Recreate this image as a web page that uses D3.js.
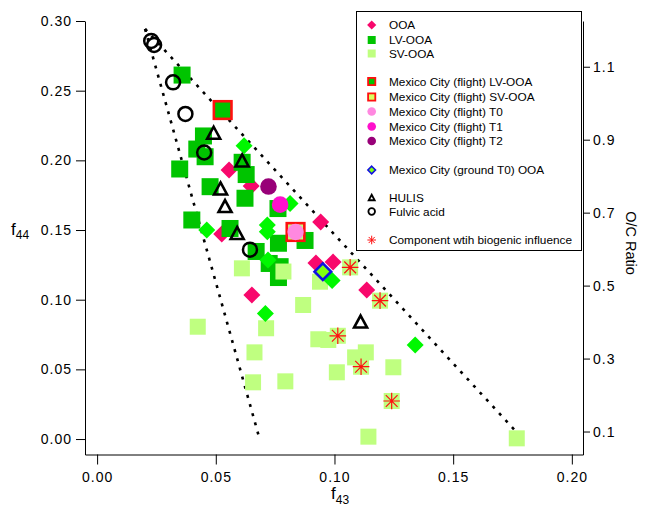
<!DOCTYPE html>
<html><head><meta charset="utf-8">
<script src="https://cdn.jsdelivr.net/npm/d3@7"></script>
<style>
body{margin:0;background:#fff}
svg{display:block}
text{font-family:"Liberation Sans",Arial,Helvetica,sans-serif;fill:#000}
</style>
</head><body>
<svg id="chart" width="646" height="509"></svg>
<script>
// ---- tick labels ----
const xTicks = [0, 0.05, 0.10, 0.15, 0.20];
const yTicks = [0, 0.05, 0.10, 0.15, 0.20, 0.25, 0.30];
const ocTicks = [0.1, 0.3, 0.5, 0.7, 0.9, 1.1];

// ---- series values [f43, f44] ----
const ooa = [[0.0556,0.1931],[0.0649,0.1816],[0.0525,0.1471],[0.0942,0.1557],[0.0922,0.1263],[0.0994,0.1270],[0.0652,0.1034],[0.1136,0.1069]];
const lvooa = [[0.0358,0.2612],[0.0448,0.2175],[0.0420,0.2081],[0.0455,0.2026],[0.0348,0.1938],[0.0611,0.1986],[0.0628,0.1898],[0.0476,0.1811],[0.0623,0.1728],[0.0399,0.1572],[0.0560,0.1511],[0.0762,0.1654],[0.0876,0.1425],[0.0764,0.1405],[0.0670,0.1346],[0.0725,0.1260],[0.0771,0.1237],[0.0764,0.1159]];
const svooa = [[0.0610,0.1225],[0.0785,0.1202],[0.0939,0.1129],[0.0868,0.0962],[0.0424,0.0806],[0.0712,0.0795],[0.0932,0.0716],[0.0974,0.0711],[0.1087,0.0586],[0.1132,0.0622],[0.0663,0.0622],[0.1010,0.0479],[0.1248,0.0515],[0.0657,0.0407],[0.0793,0.0414],[0.1143,0.0017],[0.1768,0.0005]];
const svBiogenic = [[0.1066,0.1232],[0.1192,0.0993],[0.1014,0.0741],[0.1112,0.0519],[0.1241,0.0273]];
const otherOOA = [[0.0619,0.2105],[0.0813,0.1690],[0.0462,0.1500],[0.0717,0.1536],[0.0717,0.1488],[0.0720,0.1285],[0.0990,0.1138],[0.0709,0.0901],[0.1340,0.0675]];
const flightLV = [[0.0529,0.2361]];
const flightSV = [[0.0836,0.1486]];
const flightT0 = [[0.0836,0.1486]];
const flightT1 = [[0.0771,0.1682]];
const flightT2 = [[0.0722,0.1812]];
const groundT0 = [[0.0951,0.1201]];
const hulis = [[0.0491,0.2198],[0.0611,0.1999],[0.0520,0.1798],[0.0539,0.1672],[0.0590,0.1479],[0.1110,0.0843]];
const fulvic = [[0.0228,0.2857],[0.0240,0.2828],[0.0320,0.2560],[0.0372,0.2333],[0.0451,0.2056],[0.0644,0.1359]];
// triangle guide lines (f43, f44)
const leftLine = [[0.0202,0.2943],[0.0682,0.0016]];
const rightLine = [[0.0202,0.2943],[0.1778,0.0029]];

const svg = d3.select("#chart");
const x = d3.scaleLinear().domain([-0.0051, 0.2047]).range([85, 583]);
const y = d3.scaleLinear().domain([-0.0111, 0.30]).range([454.5, 21]);
const toOC = f => 3.82 * f + 0.0794;
const yOC = d3.scaleLinear().domain([toOC(-0.0111), toOC(0.30)]).range([454.5, 21]);

// axes
const axL = svg.append("g").attr("transform","translate(85,0)")
  .call(d3.axisLeft(y).tickValues(yTicks).tickFormat(d3.format(".2f")).tickSize(9).tickSizeOuter(0).tickPadding(4));
const axB = svg.append("g").attr("transform","translate(0,454.5)")
  .call(d3.axisBottom(x).tickValues(xTicks).tickFormat(d3.format(".2f")).tickSize(10).tickSizeOuter(0).tickPadding(8));
const axR = svg.append("g").attr("transform","translate(583,0)")
  .call(d3.axisRight(yOC).tickValues(ocTicks).tickFormat(d3.format(".1f")).tickSize(7).tickSizeOuter(0).tickPadding(3));
[axL,axB,axR].forEach(a=>{
  a.selectAll("text").style("font-size","14px").style("letter-spacing","1px");
  a.select(".domain").attr("stroke","#000");
  a.selectAll(".tick line").attr("stroke","#000");
});

// axis titles
const yl = svg.append("text").attr("x",11).attr("y",235).style("font-size","17px");
yl.append("tspan").text("f");
yl.append("tspan").attr("dy",4).style("font-size","12px").text("44");
const xl = svg.append("text").attr("x",331).attr("y",499).style("font-size","17px");
xl.append("tspan").text("f");
xl.append("tspan").attr("dy",5).style("font-size","12px").text("43");
svg.append("text").attr("transform","translate(626,243) rotate(90)")
  .attr("text-anchor","middle").style("font-size","14.5px").text("O/C Ratio");

// dotted guide lines
const line = d3.line().x(d=>x(d[0])).y(d=>y(d[1]));
[leftLine,rightLine].forEach(L=>{
  svg.append("path").attr("d",line(L)).attr("fill","none").attr("stroke","#000")
    .attr("stroke-width",2.6).attr("stroke-dasharray","3,6.5");
});

// marker helpers
const diamondPath = (cx,cy,r)=>`M${cx},${cy-r}L${cx+r},${cy}L${cx},${cy+r}L${cx-r},${cy}Z`;
const triPath = (cx,cy,w,h)=>`M${cx},${cy-h/2}L${cx+w/2},${cy+h/2}L${cx-w/2},${cy+h/2}Z`;
const starPath = (cx,cy,r)=>{
  let p="";
  for(let k=0;k<4;k++){const a=k*Math.PI/4;const dx=r*Math.cos(a),dy=r*Math.sin(a);
    p+=`M${cx-dx},${cy-dy}L${cx+dx},${cy+dy}`;}
  return p;
};
const C = {ooa:"#f8086c", lv:"#00c400", sv:"#bfff80", lime:"#00f800", t0:"#ff88e0", t1:"#ff10cc", t2:"#980078", red:"#ff1010", blue:"#1010e0", gfill:"#80ff10"};

const g = svg.append("g");
g.selectAll(".ooa").data(ooa).join("path").attr("d",d=>diamondPath(x(d[0]),y(d[1]),8.5)).attr("fill",C.ooa);
g.selectAll(".lv").data(lvooa).join("rect").attr("x",d=>x(d[0])-8.5).attr("y",d=>y(d[1])-8.5).attr("width",17).attr("height",17).attr("fill",C.lv);
g.selectAll(".sv").data(svooa.concat(svBiogenic)).join("rect").attr("x",d=>x(d[0])-8).attr("y",d=>y(d[1])-8).attr("width",16).attr("height",16).attr("fill",C.sv);
g.selectAll(".lime").data(otherOOA).join("path").attr("d",d=>diamondPath(x(d[0]),y(d[1]),8.5)).attr("fill",C.lime);
g.selectAll(".flv").data(flightLV).join("rect").attr("x",d=>x(d[0])-8.8).attr("y",d=>y(d[1])-8.8).attr("width",17.6).attr("height",17.6).attr("fill",C.lv).attr("stroke",C.red).attr("stroke-width",2.6);
g.selectAll(".fsv").data(flightSV).join("rect").attr("x",d=>x(d[0])-8.8).attr("y",d=>y(d[1])-8.8).attr("width",17.6).attr("height",17.6).attr("fill",C.sv).attr("stroke",C.red).attr("stroke-width",2.6);
g.selectAll(".t0").data(flightT0).join("circle").attr("cx",d=>x(d[0])).attr("cy",d=>y(d[1])).attr("r",8.2).attr("fill",C.t0);
g.selectAll(".t1").data(flightT1).join("circle").attr("cx",d=>x(d[0])).attr("cy",d=>y(d[1])).attr("r",8.3).attr("fill",C.t1);
g.selectAll(".t2").data(flightT2).join("circle").attr("cx",d=>x(d[0])).attr("cy",d=>y(d[1])).attr("r",8.3).attr("fill",C.t2);
g.selectAll(".gr").data(groundT0).join("path").attr("d",d=>diamondPath(x(d[0]),y(d[1]),8.3)).attr("fill",C.gfill).attr("stroke",C.blue).attr("stroke-width",2.6);
g.selectAll(".hu").data(hulis).join("path").attr("d",d=>triPath(x(d[0]),y(d[1]),13,12)).attr("fill","none").attr("stroke","#000").attr("stroke-width",2.6).attr("stroke-linejoin","miter");
g.selectAll(".fu").data(fulvic).join("circle").attr("cx",d=>x(d[0])).attr("cy",d=>y(d[1])).attr("r",7).attr("fill","none").attr("stroke","#000").attr("stroke-width",2.5);
g.selectAll(".bio").data(svBiogenic).join("path").attr("d",d=>starPath(x(d[0]),y(d[1]),8.3)).attr("stroke",C.red).attr("stroke-width",1.2).attr("fill","none");

// legend
const lg = svg.append("g");
lg.append("rect").attr("x",356.5).attr("y",11.5).attr("width",225).attr("height",239).attr("fill","#fff").attr("stroke","#000").attr("stroke-width",1);
const legendItems = [
  {label:"OOA", yy:25, kind:"diamond", fill:C.ooa},
  {label:"LV-OOA", yy:40, kind:"square", fill:C.lv},
  {label:"SV-OOA", yy:53.5, kind:"square", fill:C.sv},
  {label:"Mexico City (flight) LV-OOA", yy:81.5, kind:"bsquare", fill:C.lv},
  {label:"Mexico City (flight) SV-OOA", yy:97, kind:"bsquare", fill:"#d8ff60"},
  {label:"Mexico City (flight) T0", yy:111.5, kind:"circle", fill:C.t0},
  {label:"Mexico City (flight) T1", yy:126.5, kind:"circle", fill:C.t1},
  {label:"Mexico City (flight) T2", yy:141, kind:"circle", fill:C.t2},
  {label:"Mexico City (ground T0)  OOA", yy:170, kind:"bdiamond", fill:C.gfill},
  {label:"HULIS", yy:197.5, kind:"tri"},
  {label:"Fulvic acid", yy:211.5, kind:"ring"},
  {label:"Component wtih biogenic influence", yy:240, kind:"star"}
];
const mx = 371.7;
legendItems.forEach(it=>{
  const cy = it.yy;
  if(it.kind==="diamond") lg.append("path").attr("d",diamondPath(mx,cy,4.6)).attr("fill",it.fill);
  if(it.kind==="square") lg.append("rect").attr("x",mx-4).attr("y",cy-4).attr("width",8).attr("height",8).attr("fill",it.fill);
  if(it.kind==="bsquare") lg.append("rect").attr("x",mx-3.6).attr("y",cy-3.6).attr("width",7.2).attr("height",7.2).attr("fill",it.fill).attr("stroke",C.red).attr("stroke-width",1.8);
  if(it.kind==="circle") lg.append("circle").attr("cx",mx).attr("cy",cy).attr("r",4.3).attr("fill",it.fill);
  if(it.kind==="bdiamond") lg.append("path").attr("d",diamondPath(mx,cy,3.8)).attr("fill",it.fill).attr("stroke",C.blue).attr("stroke-width",1.6);
  if(it.kind==="tri") lg.append("path").attr("d",triPath(mx,cy,6,5.5)).attr("fill","none").attr("stroke","#000").attr("stroke-width",1.8);
  if(it.kind==="ring") lg.append("circle").attr("cx",mx).attr("cy",cy).attr("r",3.3).attr("fill","none").attr("stroke","#000").attr("stroke-width",1.8);
  if(it.kind==="star") lg.append("path").attr("d",starPath(mx,cy,4.3)).attr("stroke",C.red).attr("stroke-width",1).attr("fill","none");
  lg.append("text").attr("x",389).attr("y",cy).attr("dy","0.36em").style("font-size","11.8px").text(it.label);
});
</script>
</body></html>
